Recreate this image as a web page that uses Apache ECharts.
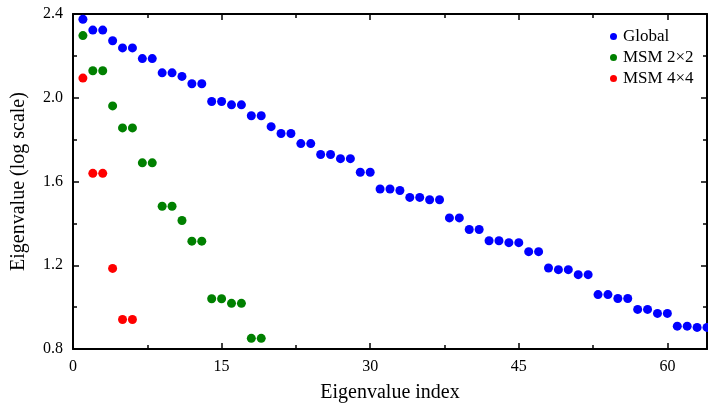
<!DOCTYPE html>
<html>
<head>
<meta charset="utf-8">
<script src="https://cdn.jsdelivr.net/npm/echarts@6/dist/echarts.min.js"></script>
<style>
html,body{margin:0;padding:0;background:#fff;}
#chart{width:708px;height:408px;}
</style>
</head>
<body>
<div id="chart"></div>
<script>
// Eigenvalues (log scale), indexed from 1
const globalValues = [
  2.375, 2.323, 2.323, 2.272, 2.238, 2.238, 2.187, 2.187, 2.119, 2.119,
  2.102, 2.067, 2.067, 1.982, 1.982, 1.966, 1.966, 1.914, 1.914, 1.862,
  1.829, 1.829, 1.781, 1.781, 1.729, 1.729, 1.709, 1.709, 1.644, 1.644,
  1.564, 1.564, 1.557, 1.524, 1.524, 1.513, 1.513, 1.426, 1.426, 1.371,
  1.371, 1.317, 1.317, 1.308, 1.308, 1.265, 1.265, 1.187, 1.179, 1.179,
  1.155, 1.155, 1.060, 1.060, 1.041, 1.041, 0.989, 0.989, 0.970, 0.970,
  0.909, 0.909, 0.903, 0.903
];
const msm2Values = [
  2.297, 2.129, 2.129, 1.961, 1.856, 1.856, 1.689, 1.689, 1.482, 1.482,
  1.414, 1.315, 1.315, 1.040, 1.040, 1.018, 1.018, 0.851, 0.851
];
const msm4Values = [2.094, 1.639, 1.639, 1.185, 0.941, 0.941];
const seriesNames = ['Global', 'MSM 2\u00d72', 'MSM 4\u00d74'];
const xTicks = [0, 15, 30, 45, 60];
const yTicks = [0.8, 1.2, 1.6, 2.0, 2.4];

const font = 'Liberation Serif';
const toPoints = arr => arr.map((v, i) => [i + 1, v]);

const xBase = {
  type: 'value', min: 0, max: 64, interval: 15,
  axisLine: {show: true, onZero: false, lineStyle: {color: '#000', width: 2}},
  axisTick: {show: true, inside: true, length: 6, lineStyle: {color: '#000', width: 1.5}},
  minorTick: {show: true, splitNumber: 2, length: 4, lineStyle: {color: '#000', width: 1.5}},
  splitLine: {show: false}
};
const yBase = {
  type: 'value', min: 0.8, max: 2.4, interval: 0.4,
  axisLine: {show: true, onZero: false, lineStyle: {color: '#000', width: 2}},
  axisTick: {show: true, inside: true, length: 6, lineStyle: {color: '#000', width: 1.5}},
  minorTick: {show: true, splitNumber: 2, length: 4, lineStyle: {color: '#000', width: 1.5}},
  splitLine: {show: false}
};

const chart = echarts.init(document.getElementById('chart'), null, {renderer: 'canvas'});
chart.setOption({
  animation: false,
  backgroundColor: '#fff',
  grid: {left: 73, right: 1, top: 14, bottom: 56, containLabel: false},
  legend: {
    orient: 'vertical', left: 605, top: 21, itemGap: 0,
    itemWidth: 9, itemHeight: 7, icon: 'circle',
    textStyle: {fontFamily: font, fontSize: 17, color: '#000', lineHeight: 21},
    data: seriesNames
  },
  xAxis: [
    Object.assign({}, xBase, {
      position: 'bottom',
      name: 'Eigenvalue index', nameLocation: 'middle', nameGap: 34,
      nameTextStyle: {fontFamily: font, fontSize: 20, color: '#000'},
      axisLabel: {show: true, margin: 10, fontFamily: font, fontSize: 16, color: '#000',
        customValues: xTicks, formatter: v => String(v)}
    }),
    Object.assign({}, xBase, {position: 'top', axisLabel: {show: false}})
  ],
  yAxis: [
    Object.assign({}, yBase, {
      position: 'left',
      name: 'Eigenvalue (log scale)', nameLocation: 'middle', nameGap: 44,
      nameTextStyle: {fontFamily: font, fontSize: 20, color: '#000'},
      axisLabel: {show: true, margin: 10, fontFamily: font, fontSize: 16, color: '#000',
        padding: [4, 0, 0, 0],
        formatter: v => Number(v).toFixed(1)}
    }),
    Object.assign({}, yBase, {position: 'right', axisLabel: {show: false}})
  ],
  series: [
    {name: seriesNames[0], type: 'scatter', data: toPoints(globalValues), symbolSize: 9,
     itemStyle: {color: '#0000ff', opacity: 1}, xAxisIndex: 0, yAxisIndex: 0},
    {name: seriesNames[1], type: 'scatter', data: toPoints(msm2Values), symbolSize: 9,
     itemStyle: {color: '#008000', opacity: 1}, xAxisIndex: 0, yAxisIndex: 0},
    {name: seriesNames[2], type: 'scatter', data: toPoints(msm4Values), symbolSize: 9,
     itemStyle: {color: '#ff0000', opacity: 1}, xAxisIndex: 0, yAxisIndex: 0}
  ]
});
</script>
</body>
</html>
